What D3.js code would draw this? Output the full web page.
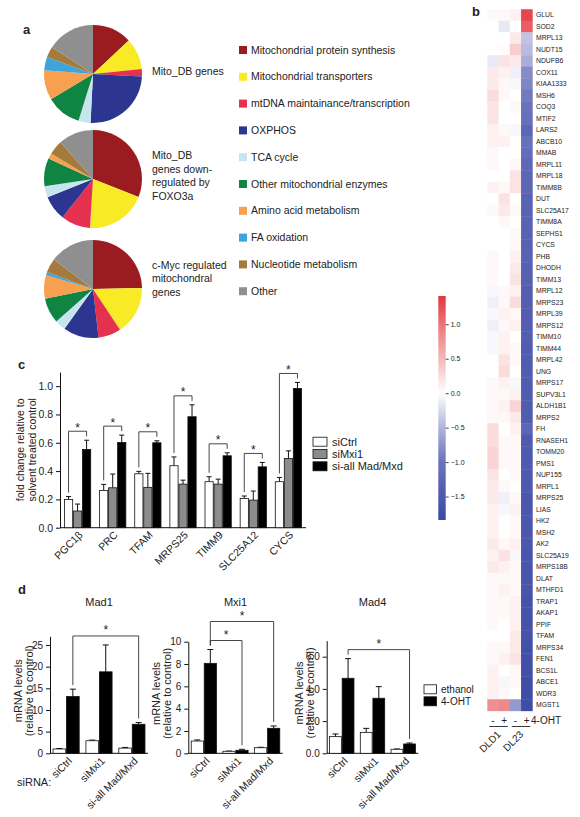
<!DOCTYPE html>
<html><head><meta charset="utf-8">
<script src="https://cdn.jsdelivr.net/npm/d3@7"></script>
<style>
body{margin:0;background:#fff}
svg{display:block}
text{font-family:"Liberation Sans",Arial,Helvetica,sans-serif;fill:#222}
</style>
</head><body>
<svg id="fig" width="580" height="817"></svg>
<script>
// ================= DATA =================
// Panel a
const pieCategories = ["Mitochondrial protein synthesis","Mitochondrial transporters","mtDNA maintainance/transcription","OXPHOS","TCA cycle","Other mitochondrial enzymes","Amino acid metabolism","FA oxidation","Nucleotide metabolism","Other"];
const mitoDBShares   = [13, 10.4, 2.4, 25, 4, 11.6, 9.8, 4.4, 3.6, 15.8];
const foxo3aShares   = [31, 20, 9.7, 8.2, 3.75, 9.2, 1.9, 0, 4.7, 11.55];
const cMycShares     = [24.7, 16, 7.5, 11.7, 3.6, 8.3, 7.8, 1, 4.7, 14.7];
const pieTitles = [["Mito_DB genes"],["Mito_DB","genes down-","regulated by","FOXO3a"],["c-Myc regulated","mitochondral","genes"]];

// Panel b
const heatGenes = ["GLUL","SOD2","MRPL13","NUDT15","NDUFB6","COX11","KIAA1333","MSH6","COQ3","MTIF2","LARS2","ABCB10","MMAB","MRPL11","MRPL18","TIMM8B","DUT","SLC25A17","TIMM8A","SEPHS1","CYCS","PHB","DHODH","TIMM13","MRPL12","MRPS23","MRPL39","MRPS12","TIMM10","TIMM44","MRPL42","UNG","MRPS17","SUPV3L1","ALDH1B1","MRPS2","FH","RNASEH1","TOMM20","PMS1","NUP155","MRPL1","MRPS25","LIAS","HK2","MSH2","AK2","SLC25A19","MRPS18B","DLAT","MTHFD1","TRAP1","AKAP1","PPIF","TFAM","MRPS34","FEN1","BCS1L","ABCE1","WDR3","MGST1"];
const heatColumns = ["DLD1 -","DLD1 +","DL23 -","DL23 +"];
const dld1Minus = [0.05,0,0,0,-0.15,0.15,0.15,0.25,0.2,0.2,0.1,0.1,0.05,0.05,0,0.1,0,0.05,0,0,0,0.05,0.05,0.05,-0.05,-0.1,-0.05,-0.1,-0.05,-0.05,0,0,0.05,0.05,0.05,0.05,0.25,0.25,0.3,0.3,0.2,0.15,0.15,0.1,0.1,0.1,0.15,0.1,0.15,0.05,0.05,0.05,0.05,0.05,0,0.05,0.05,0.1,0.1,0.1,0.8];
const dld1Plus  = [0.05,-0.15,0,0.02,0.2,0.1,0.05,0.05,0,0,0.05,0.1,0,0,0,0.05,0.2,0.15,0.05,0,0,0,0,0,0.05,0.05,0.1,0.05,0.1,0.1,0.2,0.25,0.1,0.05,0.1,0.05,0,0.05,0.05,0.05,0,0.05,-0.1,-0.05,0,0,0.05,0.2,0.1,0.05,0.1,0.05,0.05,0,0,0.05,0.1,0,-0.05,0.05,0.85];
const dl23Minus = [0.1,0,0.15,0.35,0.15,-0.1,-0.05,0,0.05,0,-0.05,0,0,0.05,0.2,0.2,0,0.05,0,0.05,0.05,0.1,0.15,0.2,0.1,0.25,0.05,0.1,0,0.05,0.05,0,-0.05,0.1,0.3,0.15,0.1,0.05,0.05,0.05,0.05,0,0.05,0.1,0.05,0.05,0.1,-0.05,0.05,0.05,0.05,0.1,0.1,0.1,0.15,0.15,0.2,0.05,0.05,0,-0.7];
const dl23Plus  = [1.3,1.15,-0.4,-0.45,-0.55,-0.8,-0.85,-0.95,-1.0,-1.05,-1.25,-1.05,-1.1,-1.2,-1.25,-1.25,-1.3,-1.3,-1.3,-1.3,-1.35,-1.3,-1.35,-1.35,-1.4,-1.4,-1.4,-1.4,-1.4,-1.45,-1.45,-1.45,-1.45,-1.45,-1.45,-1.45,-1.25,-1.5,-1.5,-1.5,-1.5,-1.5,-1.55,-1.55,-1.55,-1.55,-1.55,-1.6,-1.6,-1.6,-1.6,-1.65,-1.65,-1.65,-1.65,-1.7,-1.7,-1.7,-1.75,-1.75,-1.75];
const colorbarRange = [-1.84, 1.41];
const colorbarTicks = [1.0, 0.5, 0.0, -0.5, -1.0, -1.5];

// Panel c
const cGenes = ["PGC1β","PRC","TFAM","MRPS25","TIMM9","SLC25A12","CYCS"];
const cSeries = ["siCtrl","siMxi1","si-all Mad/Mxd"];
const cSiCtrl     = [0.20,0.263,0.381,0.438,0.325,0.207,0.325];
const cSiCtrlErr  = [0.02,0.043,0.017,0.062,0.035,0.017,0.03];
const cSiMxi1     = [0.118,0.282,0.285,0.308,0.308,0.195,0.489];
const cSiMxi1Err  = [0.049,0.097,0.099,0.028,0.035,0.064,0.054];
const cSiAll      = [0.553,0.602,0.600,0.784,0.508,0.430,0.984];
const cSiAllErr   = [0.065,0.052,0.014,0.084,0.021,0.031,0.042];
const cTicks = [0,0.2,0.4,0.6,0.8,1.0];

// Panel d
const dConditions = ["siCtrl","siMxi1","si-all Mad/Mxd"];
const dSeries = ["ethanol","4-OHT"];
const mad1Ethanol = [1.0,2.9,1.2],   mad1EthanolErr = [0.1,0.15,0.15];
const mad1OHT     = [13.1,18.8,6.7], mad1OHTErr     = [1.7,6.2,0.4];
const mad1Ticks = [0,5,10,15,20,25];
const mad1Sig = [[0,2]];
const mxi1Ethanol = [1.1,0.18,0.5],  mxi1EthanolErr = [0.1,0.02,0.04];
const mxi1OHT     = [8.06,0.27,2.24],mxi1OHTErr     = [1.24,0.09,0.21];
const mxi1Ticks = [0,2,4,6,8,10];
const mxi1Sig = [[0,1],[0,2]];
const mad4Ethanol = [1.035,1.3,0.25],mad4EthanolErr = [0.165,0.25,0.02];
const mad4OHT     = [4.66,3.42,0.58],mad4OHTErr     = [1.22,0.72,0.06];
const mad4Ticks = [0,2,4,6];
const mad4Sig = [[0,2]];

// ================= STYLE =================
const pieColors = ["#9a1c21","#f8eb25","#e5304f","#2c3590","#c6e5ef","#0f8443","#f6a050","#3da5dc","#a47b3c","#8f8f8f"];
const heatStopVals = [-1.84,-1.0,-0.5,0,0.5,1.0,1.41];
const heatStopCols = ["#3a49a3","#6a72bc","#b0b4da","#ffffff","#f5b8ba","#ed7479","#e2363c"];
const heatColor = d3.scaleLinear().domain(heatStopVals).range(heatStopCols).clamp(true);

const svg = d3.select("#fig");
svg.append("rect").attr("width",580).attr("height",817).attr("fill","#fff");

function label(t,x,y){ svg.append("text").attr("x",x).attr("y",y).attr("font-size",13).attr("font-weight","bold").attr("fill","#111").text(t); }
label("a",23,33.5); label("b",472,16); label("c",18,368.5); label("d",18,594);

// ================= PANEL A =================
const pie = d3.pie().sort(null).value(d=>d);
const arc = d3.arc().innerRadius(0).outerRadius(49);
const pieSets = [mitoDBShares, foxo3aShares, cMycShares];
const pieCY = [74,179,289];
pieSets.forEach((vals,i)=>{
  const g = svg.append("g").attr("transform",`translate(93,${pieCY[i]})`);
  g.selectAll("path").data(pie(vals)).join("path").attr("d",arc).attr("fill",(d,j)=>pieColors[j]);
});
const titleY = [[71.5],[155.5,169,182.5,196],[265,278.5,292]];
pieTitles.forEach((lines,i)=>{
  lines.forEach((l,k)=>svg.append("text").attr("x",152).attr("y",titleY[i][k]).attr("dy","0.35em").attr("font-size",10.5).text(l));
});
const legA = svg.append("g");
pieCategories.forEach((c,i)=>{
  const y = 50 + i*26.8;
  legA.append("rect").attr("x",239).attr("y",y-4).attr("width",8).attr("height",8).attr("fill",pieColors[i]);
  legA.append("text").attr("x",251).attr("y",y).attr("dy","0.35em").attr("font-size",10.5).text(c);
});

// ================= PANEL B =================
const heatData = [dld1Minus,dld1Plus,dl23Minus,dl23Plus];
const hx = d3.scaleBand().domain(d3.range(heatColumns.length)).range([487.3,532.3]);
const hy = d3.scaleBand().domain(heatGenes).range([9.25,710.75]);
const hg = svg.append("g");
heatData.forEach((col,ci)=>{
  hg.selectAll(null).data(col).join("rect")
    .attr("x",hx(ci)).attr("y",(d,ri)=>hy(heatGenes[ri]))
    .attr("width",hx.bandwidth()+0.4).attr("height",hy.bandwidth()+0.4)
    .attr("fill",d=>heatColor(d));
});
hg.selectAll("text.gene").data(heatGenes).join("text").attr("class","gene")
  .attr("x",536).attr("y",d=>hy(d)+hy.bandwidth()/2).attr("dy","0.35em")
  .attr("font-size",6.8).attr("fill","#333").text(d=>d);
heatColumns.forEach((c,ci)=>{
  svg.append("text").attr("x",hx(ci)+hx.bandwidth()/2).attr("y",723.5).attr("text-anchor","middle")
    .attr("font-size",10).text(c.endsWith("-")?"-":"+");
});
svg.append("text").attr("x",531).attr("y",723.5).attr("font-size",10).text("4-OHT");
[["DLD1",0],["DL23",2]].forEach(([n,ci])=>{
  svg.append("line").attr("x1",hx(ci)+2).attr("x2",hx(ci+1)+hx.bandwidth()-2).attr("y1",726.5).attr("y2",726.5).attr("stroke","#222").attr("stroke-width",0.9);
  const cxp = hx(ci+1)+3;
  svg.append("text").attr("transform",`translate(${cxp},735) rotate(-45)`).attr("text-anchor","end").attr("font-size",10).text(n);
});
// colorbar
const defs = svg.append("defs");
const grad = defs.append("linearGradient").attr("id","cbar").attr("x1",0).attr("y1",1).attr("x2",0).attr("y2",0);
const cbScale = d3.scaleLinear().domain(colorbarRange).range([520,296]);
d3.range(0,1.0001,0.02).forEach(t=>{
  const v = colorbarRange[0] + t*(colorbarRange[1]-colorbarRange[0]);
  grad.append("stop").attr("offset",t).attr("stop-color",heatColor(v));
});
svg.append("rect").attr("x",438.3).attr("y",296).attr("width",7.4).attr("height",224).attr("fill","url(#cbar)");
const cbAxis = svg.append("g").attr("transform","translate(445.7,0)")
  .call(d3.axisRight(cbScale).tickValues(colorbarTicks).tickFormat(d3.format(".1f")).tickSize(3).tickSizeOuter(0));
cbAxis.select(".domain").remove();
cbAxis.selectAll("line").attr("stroke","#444");
cbAxis.selectAll("text").attr("font-size",7).attr("fill","#333").attr("x",5);

// ================= PANEL C =================
const cVals = [cSiCtrl,cSiMxi1,cSiAll];
const cErrs = [cSiCtrlErr,cSiMxi1Err,cSiAllErr];
const cFill = ["#ffffff","#8c8c8c","#000000"];
const cx0 = d3.scaleBand().domain(cGenes).range([60,306]).paddingInner(0.23).paddingOuter(0.115);
const cx1 = d3.scaleBand().domain(d3.range(3)).range([0,cx0.bandwidth()]);
const cy = d3.scaleLinear().domain([0,1.1]).range([527.7,372]);
const cg = svg.append("g");
const yAxC = cg.append("g").attr("transform","translate(60,0)")
  .call(d3.axisLeft(cy).tickValues(cTicks).tickFormat(d3.format(".1f")).tickSize(4).tickSizeOuter(0));
yAxC.selectAll("text").attr("font-size",10.5).attr("fill","#222");
yAxC.selectAll("line,path").attr("stroke","#111");
cg.append("line").attr("x1",60).attr("x2",306).attr("y1",cy(0)).attr("y2",cy(0)).attr("stroke","#111");
cGenes.forEach((gname,gi)=>{
  const gx = cx0(gname);
  cVals.forEach((s,si)=>{
    const x = gx+cx1(si), w = cx1.bandwidth();
    const top = cy(s[gi]), et = cy(s[gi]+cErrs[si][gi]);
    cg.append("line").attr("x1",x+w/2).attr("x2",x+w/2).attr("y1",top).attr("y2",et).attr("stroke","#111");
    cg.append("line").attr("x1",x+w/2-2.5).attr("x2",x+w/2+2.5).attr("y1",et).attr("y2",et).attr("stroke","#111");
    cg.append("rect").attr("x",x+0.4).attr("y",top).attr("width",w-0.8).attr("height",cy(0)-top)
      .attr("fill",cFill[si]).attr("stroke","#111").attr("stroke-width",0.8);
  });
  const tops = cVals.map((s,si)=>cy(s[gi]+cErrs[si][gi]));
  const by = d3.min(tops) - 9;
  const xl = gx+cx1(0)+cx1.bandwidth()/2, xr = gx+cx1(2)+cx1.bandwidth()/2;
  cg.append("path").attr("d",`M${xl},${tops[0]-4}V${by}H${xr}V${tops[2]-4}`).attr("fill","none").attr("stroke","#333").attr("stroke-width",0.9);
  cg.append("text").attr("x",(xl+xr)/2).attr("y",by+0.5).attr("text-anchor","middle").attr("font-size",12).text("*");
  cg.append("text").attr("transform",`translate(${gx+cx0.bandwidth()/2+3},533) rotate(-45)`).attr("dy","0.35em")
    .attr("text-anchor","end").attr("font-size",10.5).text(gname);
});
[["fold change relative to",20],["solvent treated control",32]].forEach(([t,x])=>{
  cg.append("text").attr("transform",`translate(${x},${(cy(0)+cy(1.1))/2}) rotate(-90)`).attr("dy","0.35em")
    .attr("text-anchor","middle").attr("font-size",10.5).text(t);
});
cSeries.forEach((s,si)=>{
  const y = 441.7 + si*12.3;
  cg.append("rect").attr("x",313).attr("y",y-4.5).attr("width",14).attr("height",9).attr("fill",cFill[si]).attr("stroke","#111").attr("stroke-width",0.8);
  cg.append("text").attr("x",332).attr("y",y).attr("dy","0.35em").attr("font-size",11).text(s);
});

// ================= PANEL D =================
function drawD(cfg){
  const g = svg.append("g");
  const x0 = d3.scaleBand().domain(dConditions).range(cfg.xr).paddingInner(0.18).paddingOuter(0.08);
  const x1 = d3.scaleBand().domain(d3.range(2)).range([0,x0.bandwidth()]);
  const y = d3.scaleLinear().domain([0,cfg.ymax]).range([753.3,cfg.ytop]);
  const ax = g.append("g").attr("transform",`translate(${cfg.xr[0]},0)`)
    .call(d3.axisLeft(y).tickValues(cfg.ticks).tickSize(4).tickSizeOuter(0));
  ax.selectAll("text").attr("font-size",10).attr("fill","#222");
  ax.selectAll("line,path").attr("stroke","#111");
  g.append("line").attr("x1",cfg.xr[0]).attr("x2",cfg.xr[1]).attr("y1",y(0)).attr("y2",y(0)).attr("stroke","#111");
  const vals = [cfg.eth,cfg.oht], errs = [cfg.ethErr,cfg.ohtErr];
  const errTop = (si,gi)=>y(vals[si][gi]+errs[si][gi]);
  dConditions.forEach((c,gi)=>{
    const gx = x0(c);
    vals.forEach((s,si)=>{
      const x = gx + x1(si), w = x1.bandwidth();
      const top = y(s[gi]), et = errTop(si,gi);
      g.append("line").attr("x1",x+w/2).attr("x2",x+w/2).attr("y1",top).attr("y2",et).attr("stroke","#111");
      g.append("line").attr("x1",x+w/2-3).attr("x2",x+w/2+3).attr("y1",et).attr("y2",et).attr("stroke","#111");
      g.append("rect").attr("x",x+0.4).attr("y",top).attr("width",w-0.8).attr("height",y(0)-top)
        .attr("fill",si?"#000":"#fff").attr("stroke","#111").attr("stroke-width",0.8);
    });
    g.append("text").attr("transform",`translate(${gx+x0.bandwidth()/2+4},759) rotate(-45)`).attr("dy","0.35em")
      .attr("text-anchor","end").attr("font-size",10.5).text(c);
  });
  cfg.sig.forEach(([a,b],lvl)=>{
    const span = [];
    for(let gi=a; gi<=b; gi++){ span.push(errTop(0,gi), errTop(1,gi)); }
    const by = d3.min(span) - 9 - lvl*19;
    const xl = x0(dConditions[a])+x1(1)+x1.bandwidth()/2, xr = x0(dConditions[b])+x1(1)+x1.bandwidth()/2;
    g.append("path").attr("d",`M${xl},${errTop(1,a)-4}V${by}H${xr}V${errTop(1,b)-4}`).attr("fill","none").attr("stroke","#333").attr("stroke-width",0.9);
    g.append("text").attr("x",(xl+xr)/2).attr("y",by-2).attr("text-anchor","middle").attr("font-size",12).text("*");
  });
  g.append("text").attr("x",(cfg.xr[0]+cfg.xr[1])/2).attr("y",602).attr("dy","0.35em").attr("text-anchor","middle").attr("font-size",11).text(cfg.title);
  [["mRNA levels",cfg.lab[0]],["(relative to control)",cfg.lab[1]]].forEach(([t,off])=>{
    g.append("text").attr("transform",`translate(${cfg.xr[0]+off},${(y(0)+cfg.ytop)/2-4}) rotate(-90)`).attr("dy","0.35em")
      .attr("text-anchor","middle").attr("font-size",11).text(t);
  });
}
drawD({title:"Mad1",xr:[50,148],ymax:27,ytop:636.3,ticks:mad1Ticks,eth:mad1Ethanol,ethErr:mad1EthanolErr,oht:mad1OHT,ohtErr:mad1OHTErr,sig:mad1Sig,lab:[-32,-21]});
drawD({title:"Mxi1",xr:[188.3,282.7],ymax:10,ytop:641.7,ticks:mxi1Ticks,eth:mxi1Ethanol,ethErr:mxi1EthanolErr,oht:mxi1OHT,ohtErr:mxi1OHTErr,sig:mxi1Sig,lab:[-32,-21]});
drawD({title:"Mad4",xr:[326.7,418.3],ymax:7,ytop:640.6,ticks:mad4Ticks,eth:mad4Ethanol,ethErr:mad4EthanolErr,oht:mad4OHT,ohtErr:mad4OHTErr,sig:mad4Sig,lab:[-28,-17]});
svg.append("text").attr("x",17).attr("y",782).attr("dy","0.35em").attr("font-size",11).text("siRNA:");
dSeries.forEach((s,si)=>{
  const y = 689.3 + si*12;
  svg.append("rect").attr("x",424).attr("y",y-4.5).attr("width",12.5).attr("height",9).attr("fill",si?"#000":"#fff").attr("stroke","#111").attr("stroke-width",0.8);
  svg.append("text").attr("x",441).attr("y",y).attr("dy","0.35em").attr("font-size",10).text(s);
});
</script>
</body></html>
